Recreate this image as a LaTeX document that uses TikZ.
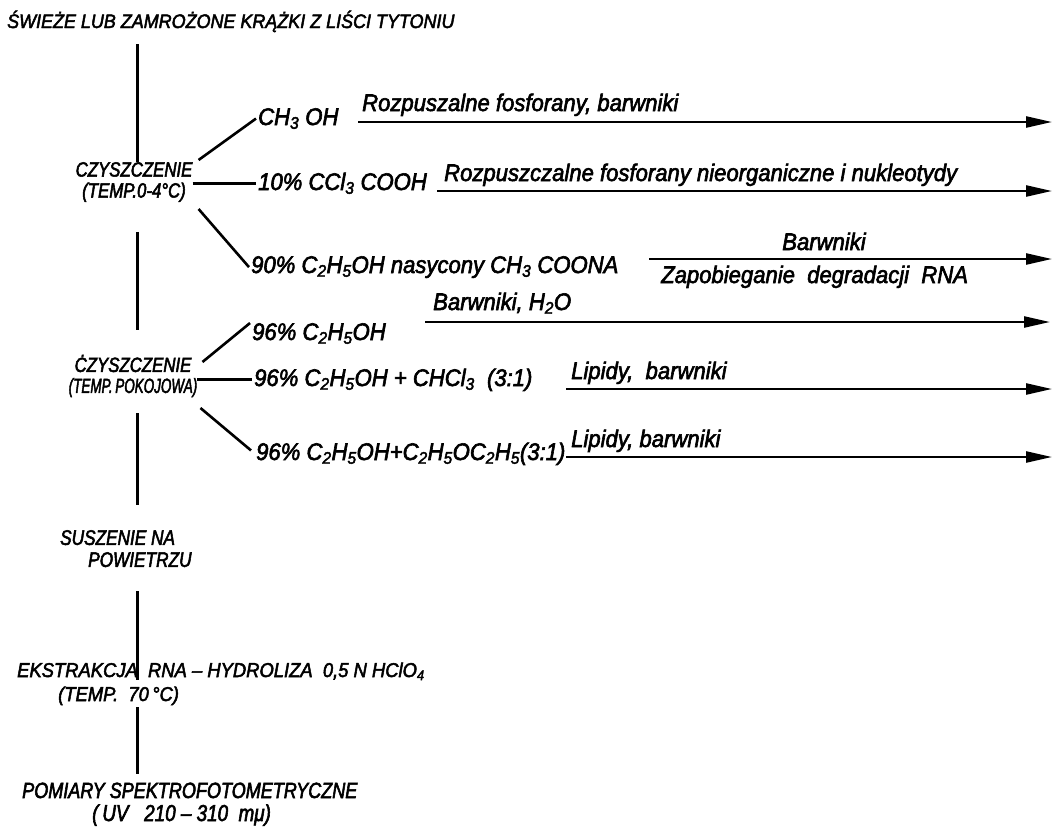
\documentclass[tikz,border=0pt]{standalone}
\usepackage{fontspec}
\setmainfont{Liberation Sans}
\newfontfamily\handA{Liberation Sans}[FakeStretch=0.92, FakeBold=2.5]
\newfontfamily\handB{Liberation Sans}[FakeStretch=0.82, FakeBold=2.5]
\usetikzlibrary{arrows.meta}
\newcommand\sbs[1]{\textsubscript{#1}}
\newcommand\fa[2]{\handA\fontsize{#1}{#2}\selectfont\itshape}
\newcommand\fb[2]{\handB\fontsize{#1}{#2}\selectfont\itshape}
\tikzset{
  txt/.style={inner sep=0pt, anchor=base west, font=\fa{24}{28}},
  head/.style={inner sep=0pt, anchor=base west, font=\fa{19.5}{22}},
  stage/.style={inner sep=0pt, align=center, font=\fb{20.5}{21}},
  low/.style={inner sep=0pt, anchor=base west, font=\fa{20}{23}},
  vline/.style={line width=3pt},
  branch/.style={line width=2.6pt},
  arr/.style={line width=2.4pt, -{Triangle[length=26pt,width=11pt]}},
}
\begin{document}
\begin{tikzpicture}[x=1pt,y=-1pt]
\useasboundingbox (0,0) rectangle (1053,830);
\coordinate (ax) at (137,0);
% main column
\node[head] (title) at (7,28) {ŚWIEŻE LUB ZAMROŻONE KRĄŻKI Z LIŚCI TYTONIU};
\node[stage] (c1) at (134,182) {CZYSZCZENIE\\(TEMP.0-4°C)};
\node[stage] (c2) at (133,376) {ĊZYSZCZENIE\\\scalebox{0.8}[1]{(TEMP.\,POKOJOWA)}};
\node[inner sep=0pt, align=left, anchor=north west, font=\fb{21}{22}] (s) at (60,530) {SUSZENIE NA\\\hspace*{28pt}POWIETRZU};
\node[low] (e) at (17,677) {EKSTRAKCJA\ \ RNA – HYDROLIZA\ \ 0,5 N HClO\sbs{4}};
\node[low] (e2) at (58,701) {(TEMP.\ \ 70\,°C)};
\node[low, font=\fb{22}{24}] (p) at (22,798) {POMIARY SPEKTROFOTOMETRYCZNE};
\node[low, font=\fb{23}{24}] (p2) at (92,821) {(\,UV\ \ \ 210 – 310\ \ mμ)};
% vertical connectors
\draw[vline] (title.south -| ax) ++(0,12) -- (c1.north -| ax) ;
\draw[vline] (c1.south -| ax) ++(0,30) -- ([yshift=25pt]c2.north -| ax);
\draw[vline] (c2.south -| ax) ++(0,16) -- ([yshift=25pt]s.north -| ax);
\draw[vline] (s.south -| ax) ++(0,24) -- ([yshift=-18pt]e.north -| ax);
\draw[vline] (e2.south -| ax) ++(0,2) -- ([yshift=8pt]p.north -| ax);
% reagents
\node[txt] (r1) at (258,125) {CH\sbs{3} OH};
\node[txt] (r2) at (258,190) {10\% CCl\sbs{3} COOH};
\node[txt] (r3) at (251,273) {90\% C\sbs{2}H\sbs{5}OH nasycony CH\sbs{3} COONA};
\node[txt] (r4) at (252,340) {96\% C\sbs{2}H\sbs{5}OH};
\node[txt] (r5) at (254,386) {96\% C\sbs{2}H\sbs{5}OH + CHCl\sbs{3}\ \ (3:1)};
\node[txt] (r6) at (256,460) {96\% C\sbs{2}H\sbs{5}OH+C\sbs{2}H\sbs{5}OC\sbs{2}H\sbs{5}(3:1)};
% branches
\draw[branch] ([shift={(6,-22)}]c1.east) -- ([xshift=-2pt]r1.west);
\draw[branch] (r2.west -| c1.east) -- ([xshift=-2pt]r2.west);
\draw[branch] ([shift={(6,27)}]c1.east) -- ([xshift=-2pt]r3.west);
\draw[branch] ([shift={(5,-14)}]c2.east) -- ([xshift=-2pt]r4.north west);
\draw[branch] (r5.west -| c2.east) -- ([xshift=-2pt]r5.west);
\draw[branch] ([shift={(3,32)}]c2.east) -- ([shift={(-5,8)}]r6.north west);
% arrows
\coordinate (s1) at (358,122); \coordinate (e1) at (1052,122);
\coordinate (s2) at (437,191); \coordinate (e2a) at (1052,191);
\coordinate (s3) at (649,259); \coordinate (e3) at (1052,259);
\coordinate (s4) at (425,322); \coordinate (e4) at (1050,322);
\coordinate (s5) at (566,389); \coordinate (e5) at (1052,389);
\coordinate (s6) at (566,457); \coordinate (e6) at (1052,457);
\draw[arr] (s1) -- (e1);
\draw[arr] (s2) -- (e2a);
\draw[arr] (s3) -- (e3);
\draw[arr] (s4) -- (e4);
\draw[arr] (s5) -- (e5);
\draw[arr] (s6) -- (e6);
% labels
\node[txt] (l1) at (362,111) {Rozpuszalne fosforany, barwniki};
\node[txt] (l2) at (444,181) {Rozpuszczalne fosforany nieorganiczne i nukleotydy};
\node[txt, anchor=base] (l3) at (824,250) {Barwniki};
\node[txt] (l3b) at (661,283) {Zapobieganie\ \ degradacji\ \ RNA};
\node[txt] (l4) at (433,310) {Barwniki, H\sbs{2}O};
\node[txt] (l5) at (571,379) {Lipidy,\ \ barwniki};
\node[txt] (l6) at (571,447) {Lipidy, barwniki};
\end{tikzpicture}
\end{document}
